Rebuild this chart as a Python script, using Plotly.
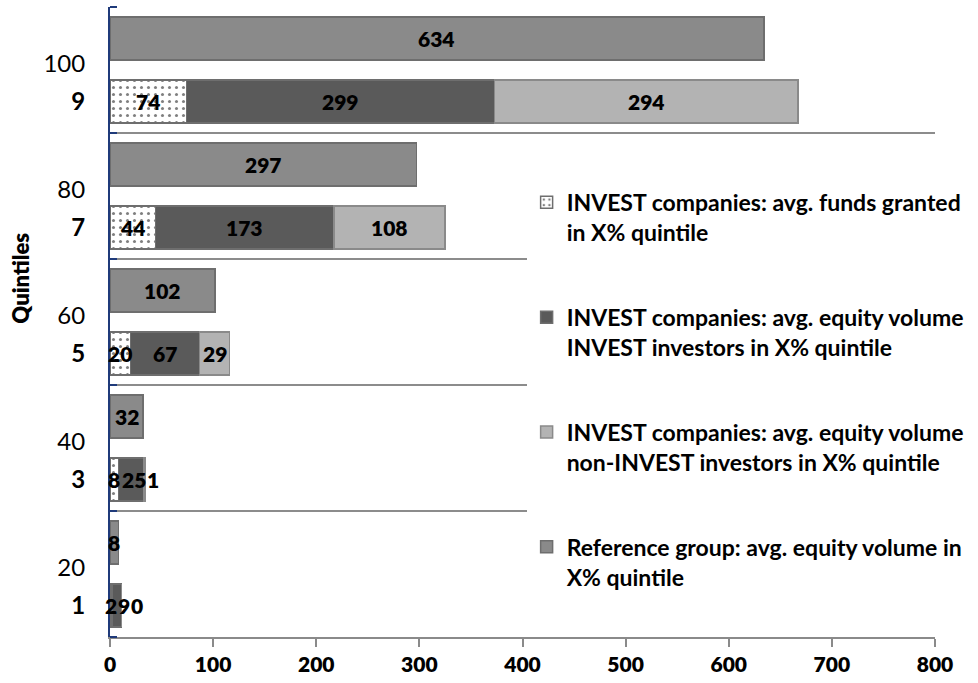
import plotly.graph_objects as go

# ---- data (top to bottom: quintile 9 ... 1) ----
quintiles = ["9", "7", "5", "3", "1"]
quintile_pct = ["100", "80", "60", "40", "20"]
funds_granted = [74, 44, 20, 8, 2]
invest_investors = [299, 173, 67, 25, 9]
non_invest_investors = [294, 108, 29, 1, 0]
reference_group = [634, 297, 102, 32, 8]

names = [
    "INVEST companies: avg. funds granted<br>in X% quintile",
    "INVEST companies: avg. equity volume<br>INVEST investors in X% quintile",
    "INVEST companies: avg. equity volume<br>non-INVEST investors in X% quintile",
    "Reference group: avg. equity volume in<br>X% quintile",
]

n = len(quintiles)
# numeric row positions: each quintile occupies a band of 2 units
grp = [n - 1 - i for i in range(n)]
y_inv = [2 * g + 0.5 for g in grp]
y_ref = [2 * g + 1.5 for g in grp]
y_pct = [2 * g + 1.1 for g in grp]

FONT = "Lato"
HEAVY = 800
line = dict(color="#6e6e6e", width=1.5)
bw = 0.68
XMAX = 800
PLOT_W = 978 - 110 - 43
px_per_unit = PLOT_W / XMAX

fig = go.Figure()
fig.add_trace(go.Bar(
    y=y_inv, x=funds_granted, orientation="h", width=bw, name=names[0],
    legendgroup="a",
    marker=dict(color="white", line=line,
                pattern=dict(shape=".", fgcolor="black", bgcolor="white", size=7, solidity=0.15)),
))
fig.add_trace(go.Bar(
    y=y_inv, x=invest_investors, orientation="h", width=bw, name=names[1],
    legendgroup="b",
    marker=dict(color="#5a5a5a", line=line),
))
fig.add_trace(go.Bar(
    y=y_inv, x=non_invest_investors, orientation="h", width=bw, name=names[2],
    legendgroup="c",
    marker=dict(color="#b3b3b3", line=dict(color="#8a8a8a", width=1.5)),
))
fig.add_trace(go.Bar(
    y=y_ref, x=reference_group, orientation="h", width=bw, name=names[3],
    legendgroup="d",
    marker=dict(color="#8a8a8a", line=line),
))

# ---- value labels, centred on each segment; nudged apart when they would collide ----
DIGIT_W = 13.0
LABEL_FONT = dict(family=FONT, size=21, color="black", weight=HEAVY)
annotations = []
for i in range(n):
    start = 0
    prev_right = None
    for series in (funds_granted, invest_investors, non_invest_investors):
        v = series[i]
        txt = str(v)
        centre_px = (start + v / 2) * px_per_unit
        half = DIGIT_W * len(txt) / 2
        shift = 0
        if prev_right is not None and centre_px - half < prev_right:
            shift = prev_right - (centre_px - half)
        annotations.append(dict(
            x=start + v / 2, y=y_inv[i], xref="x", yref="y", text=txt,
            showarrow=False, xshift=shift, font=LABEL_FONT,
        ))
        prev_right = centre_px + shift + half
        start += v
    annotations.append(dict(
        x=reference_group[i] / 2, y=y_ref[i], xref="x", yref="y",
        text=str(reference_group[i]), showarrow=False, font=LABEL_FONT,
    ))

annotations.append(dict(
    x=-0.127, y=0.57, xref="paper", yref="paper", text="Quintiles",
    textangle=-90, showarrow=False, font=dict(family=FONT, size=22, color="black", weight=HEAVY),
))

tickvals = y_inv + y_pct
ticktext = [f"<b>{q}</b>" for q in quintiles] + quintile_pct
xticks = list(range(0, XMAX + 1, 100))

fig.update_layout(
    barmode="stack",
    width=978, height=683,
    margin=dict(l=110, r=43, t=7, b=43),
    paper_bgcolor="white", plot_bgcolor="white",
    font=dict(family=FONT, size=21, color="black"),
    showlegend=True,
    annotations=annotations,
    legend=dict(
        x=0.505, y=0.724, xanchor="left", yanchor="top",
        bgcolor="white", borderwidth=0,
        traceorder="grouped", tracegroupgap=52, valign="top",
        font=dict(family=FONT, size=23, color="black", weight="bold"),
    ),
    xaxis=dict(
        range=[0, XMAX],
        tickmode="array", tickvals=xticks, ticktext=[str(t) for t in xticks],
        showgrid=False, zeroline=False,
        showline=True, linecolor="#8a8a8a", linewidth=2,
        ticks="outside", ticklen=8, tickcolor="#8a8a8a", tickwidth=1.5,
        tickfont=dict(family=FONT, size=21, weight=HEAVY),
    ),
    yaxis=dict(
        range=[0, 2 * n],
        tickmode="array", tickvals=tickvals, ticktext=ticktext,
        ticks="", showgrid=False, zeroline=False,
        showline=True, linecolor="#1f3a7a", linewidth=2,
        ticklabelstandoff=18,
        tickfont=dict(family=FONT, size=24),
        minor=dict(tickmode="array", tickvals=[2 * g for g in range(n + 1)],
                   ticks="inside", ticklen=7, tickcolor="#1f3a7a", tickwidth=2,
                   showgrid=True, gridcolor="#8c8c8c", gridwidth=1.5),
    ),
)

fig.write_html("out.html")
